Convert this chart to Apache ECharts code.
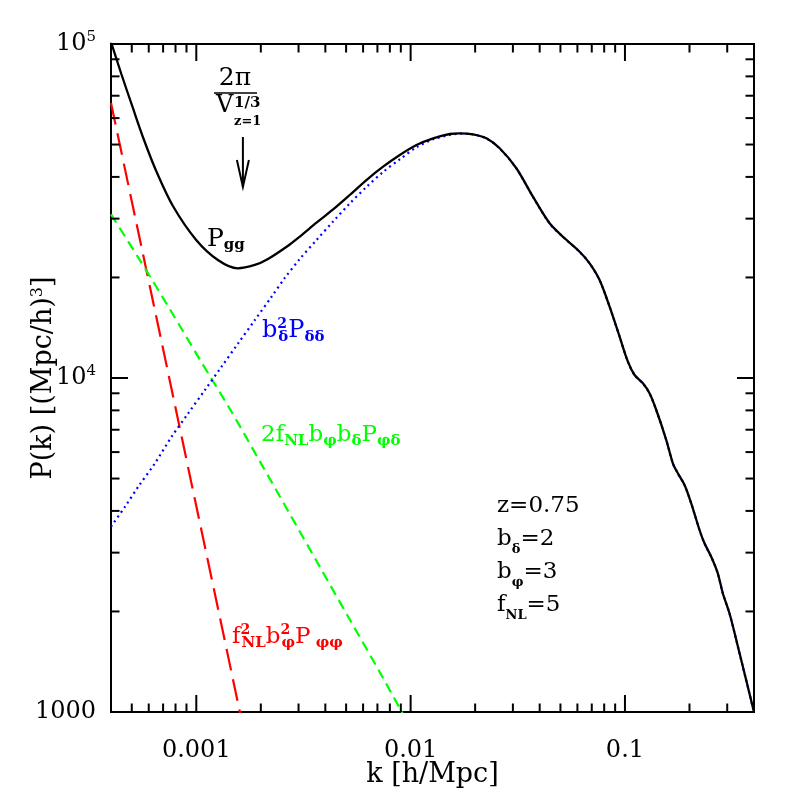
<!DOCTYPE html>
<html>
<head>
<meta charset="utf-8">
<script src="https://cdn.jsdelivr.net/npm/echarts@6/dist/echarts.min.js"></script>
<style>
  html, body { margin: 0; padding: 0; background: #fff; }
  #chart { width: 797px; height: 797px; }
</style>
</head>
<body>
<div id="chart"></div>
<script>
// power spectra: k in h/Mpc, P in (Mpc/h)^3
const kTotal = [0.0004, 0.000447, 0.000506, 0.000568, 0.00065, 0.000778, 0.000999, 0.001261, 0.00156, 0.001875,
  0.00216, 0.00267, 0.00304, 0.00364, 0.00435, 0.0052, 0.00622, 0.00744, 0.0089, 0.01065,
  0.01273, 0.01522, 0.01694, 0.01954, 0.02257, 0.02603, 0.03114, 0.03722, 0.04452, 0.05232,
  0.06144, 0.06842, 0.07615, 0.08479, 0.09441, 0.1032, 0.1109, 0.1213, 0.1302, 0.14,
  0.1559, 0.1673, 0.1765, 0.1897, 0.2038, 0.2228, 0.235, 0.2526, 0.2711, 0.2861,
  0.3074, 0.3423, 0.4];
const pTotal = [101400, 81320, 64330, 51950, 41680, 32730, 25900, 22560, 21300, 21800,
  22720, 24850, 26510, 29170, 31960, 35310, 39150, 42920, 46530, 49850,
  52200, 53770, 54030, 53660, 52200, 48720, 42460, 34900, 29050, 26200,
  23880, 22050, 19650, 16350, 13300, 11190, 10210, 9640, 9000, 8020,
  6520, 5555, 5184, 4782, 4215, 3507, 3200, 2917, 2602, 2267,
  1975, 1502, 1000];

const kDelta = [0.0004, 0.000465, 0.000536, 0.000641, 0.000767, 0.000917, 0.001097, 0.001312, 0.001568, 0.001877,
  0.002245, 0.002588, 0.003041, 0.00364, 0.00435, 0.0052, 0.00622, 0.00744, 0.0089, 0.01065,
  0.01273, 0.01522, 0.01694, 0.01954, 0.02257, 0.02603, 0.03114, 0.03722, 0.04452, 0.05232,
  0.06144, 0.06842, 0.07615, 0.08479, 0.09441, 0.1032, 0.1109, 0.1213, 0.1302, 0.14,
  0.1559, 0.1673, 0.1765, 0.1897, 0.2038, 0.2228, 0.235, 0.2526, 0.2711, 0.2861,
  0.3074, 0.3423, 0.4];
const pDelta = [3590, 4118, 4727, 5555, 6672, 7840, 9204, 10810, 12700, 14920,
  17510, 19930, 22720, 25900, 29420, 33310, 37310, 41380, 45160, 49070,
  51840, 53400, 53900, 53600, 52150, 48680, 42420, 34870, 29020, 26170,
  23860, 22030, 19630, 16340, 13290, 11180, 10200, 9630, 8990, 8010,
  6510, 5550, 5180, 4778, 4211, 3504, 3197, 2914, 2600, 2265,
  1973, 1500, 999];

const kCross = [0.0004, 0.000546, 0.000754, 0.00104, 0.001435, 0.00198, 0.002732, 0.003771, 0.0052, 0.00718, 0.00929];
const pCross = [30900, 22510, 16050, 11340, 8075, 5628, 3913, 2720, 1892, 1316, 976];

const kPhi = [0.0004, 0.0005, 0.0007, 0.001, 0.0013, 0.00165];
const pPhi = [66600, 33830, 12220, 4135, 1869, 905];

// arrow at k = 2pi / V^(1/3)
const kArrow = 0.00165;
const pArrow = [52670, 37310];

const xRange = [0.0004, 0.4];
const yRange = [1000, 100000];
const xMajor = [0.001, 0.01, 0.1];
const xMinor = [0.0005, 0.0006, 0.0007, 0.0008, 0.0009,
  0.002, 0.003, 0.004, 0.005, 0.006, 0.007, 0.008, 0.009,
  0.02, 0.03, 0.04, 0.05, 0.06, 0.07, 0.08, 0.09, 0.2, 0.3];
const yMajor = [10000];
const yMinor = [2000, 3000, 4000, 5000, 6000, 7000, 8000, 9000,
  20000, 30000, 40000, 50000, 60000, 70000, 80000, 90000];
const xTickLabels = { '-3': '0.001', '-2': '0.01', '-1': '0.1' };
const yTickLabels = { '3': '{b|1000}', '4': '{b|10}{s|4}', '5': '{b|10}{s|5}' };

const FONT = 'DejaVu Serif';
const pairs = (ks, ps) => ks.map((k, i) => [k, ps[i]]);

function decade(v) {
  const e = Math.log10(v);
  return Math.abs(e - Math.round(e)) < 1e-6 ? String(Math.round(e)) : null;
}

function tickSeries(values, axis, len) {
  return {
    type: 'custom',
    silent: true,
    z: 5,
    data: values.map(v => axis === 'x' ? [v, yRange[0]] : [xRange[0], v]),
    renderItem: (params, api) => {
      const style = { stroke: '#000', lineWidth: 2 };
      if (axis === 'x') {
        const v = api.value(0);
        const b = api.coord([v, yRange[0]]);
        const t = api.coord([v, yRange[1]]);
        return { type: 'group', children: [
          { type: 'line', shape: { x1: b[0], y1: b[1], x2: b[0], y2: b[1] - len }, style },
          { type: 'line', shape: { x1: t[0], y1: t[1], x2: t[0], y2: t[1] + len }, style }
        ] };
      }
      const v = api.value(1);
      const l = api.coord([xRange[0], v]);
      const r = api.coord([xRange[1], v]);
      return { type: 'group', children: [
        { type: 'line', shape: { x1: l[0], y1: l[1], x2: l[0] + len, y2: l[1] }, style },
        { type: 'line', shape: { x1: r[0], y1: r[1], x2: r[0] - len, y2: r[1] }, style }
      ] };
    }
  };
}

function richStyles(color, size) {
  return {
    m: { fontFamily: FONT, fontSize: size, lineHeight: 28, fill: color },
    d: { fontFamily: FONT, fontSize: 15, fontWeight: 'bold', lineHeight: 14, verticalAlign: 'bottom', fill: color },
    u: { fontFamily: FONT, fontSize: 14, fontWeight: 'bold', lineHeight: 17, verticalAlign: 'top', fill: color },
    uk: { fontFamily: FONT, fontSize: 14, fontWeight: 'bold', lineHeight: 17, verticalAlign: 'top', width: 1, fill: color }
  };
}

function label(x, y, text, color, size) {
  return {
    type: 'text', x, y, z: 10, silent: true,
    style: { text, rich: richStyles(color, size || 24), verticalAlign: 'top', align: 'left' }
  };
}

const chart = echarts.init(document.getElementById('chart'));

chart.setOption({
  animation: false,
  backgroundColor: '#fff',
  grid: {
    left: 111, top: 44, width: 643, height: 668, containLabel: false, outerBoundsMode: 'none',
    show: true, borderColor: '#000', borderWidth: 2
  },
  xAxis: {
    type: 'log', logBase: 10, min: xRange[0], max: xRange[1],
    name: 'k [h/Mpc]', nameLocation: 'middle', nameGap: 49, nameMoveOverlap: false,
    nameTextStyle: { fontFamily: FONT, fontSize: 27, color: '#000' },
    axisLine: { show: false }, axisTick: { show: false }, splitLine: { show: false },
    axisLabel: {
      margin: 27, fontFamily: FONT, fontSize: 24, color: '#000',
      formatter: v => { const e = decade(v); return e && xTickLabels[e] ? xTickLabels[e] : ''; }
    }
  },
  yAxis: {
    type: 'log', logBase: 10, min: yRange[0], max: yRange[1],
    name: 'P(k) [(Mpc/h){s|3}]', nameLocation: 'middle', nameGap: 54, nameRotate: 90, nameMoveOverlap: false,
    nameTextStyle: {
      fontFamily: FONT, fontSize: 27, color: '#000',
      rich: { s: { fontFamily: FONT, fontSize: 16, verticalAlign: 'top', lineHeight: 22, color: '#000' } }
    },
    axisLine: { show: false }, axisTick: { show: false }, splitLine: { show: false },
    axisLabel: {
      margin: 15, color: '#000',
      formatter: v => { const e = decade(v); return e && yTickLabels[e] ? yTickLabels[e] : ''; },
      rich: {
        b: { fontFamily: FONT, fontSize: 24, lineHeight: 28, color: '#000' },
        s: { fontFamily: FONT, fontSize: 15, lineHeight: 20, verticalAlign: 'top', color: '#000' }
      }
    }
  },
  series: [
    {
      name: 'phiphi', type: 'line', data: pairs(kPhi, pPhi), showSymbol: false, clip: true,
      lineStyle: { color: '#ff0000', width: 2.2, type: [22, 9] }
    },
    {
      name: 'phidelta', type: 'line', data: pairs(kCross, pCross), showSymbol: false, clip: true, smooth: 0.3,
      lineStyle: { color: '#00ff00', width: 2.2, type: [10, 6] }
    },
    {
      name: 'deltadelta', type: 'line', data: pairs(kDelta, pDelta), showSymbol: false, clip: true, smooth: 0.3,
      lineStyle: { color: '#0000ff', width: 2.2, type: [2, 3.7] }
    },
    {
      name: 'gg', type: 'line', data: pairs(kTotal, pTotal), showSymbol: false, clip: true, smooth: 0.3,
      lineStyle: { color: '#000', width: 2.3 }, z: 4
    },
    {
      name: 'arrow', type: 'custom', silent: true, z: 6,
      data: [[kArrow, pArrow[0], pArrow[1]]],
      renderItem: (params, api) => {
        const top = api.coord([api.value(0), api.value(1)]);
        const tip = api.coord([api.value(0), api.value(2)]);
        const style = { stroke: '#000', lineWidth: 2, fill: null };
        return { type: 'group', children: [
          { type: 'line', shape: { x1: top[0], y1: top[1], x2: tip[0], y2: tip[1] }, style },
          { type: 'polyline', shape: { points: [[tip[0] - 6, tip[1] - 27], tip, [tip[0] + 6, tip[1] - 27]] }, style }
        ] };
      }
    },
    tickSeries(xMajor, 'x', 17),
    tickSeries(xMinor, 'x', 8.5),
    tickSeries(yMajor, 'y', 17),
    tickSeries(yMinor, 'y', 8.5)
  ],
  graphic: [
    label(207, 225, '{m|P}{d|gg}', '#000', 25),
    label(262, 317, '{m|b}{uk|2}{d|δ}{m|P}{d|δδ}', '#0000ff'),
    label(261, 421, '{m|2f}{d|NL}{m|b}{d|φ}{m|b}{d|δ}{m|P}{d|φδ}', '#00ff00', 23),
    label(232, 623, '{m|f}{uk|2}{d|NL}{m|b}{uk|2}{d|φ}{m|P}{d| φφ}', '#ff0000', 23),
    // 2pi / V^(1/3)_{z=1}
    { type: 'text', x: 235, y: 91, silent: true,
      style: { text: '2π', fontFamily: FONT, fontSize: 25, fill: '#000', align: 'center', verticalAlign: 'bottom' } },
    { type: 'line', silent: true, shape: { x1: 214, y1: 93, x2: 257, y2: 93 }, style: { stroke: '#000', lineWidth: 1.5 } },
    { type: 'text', x: 216, y: 118, silent: true,
      style: { text: 'V', fontFamily: FONT, fontSize: 24, fill: '#000', align: 'left', verticalAlign: 'bottom' } },
    { type: 'text', x: 234, y: 96, silent: true,
      style: { text: '1/3', fontFamily: FONT, fontSize: 15, fontWeight: 'bold', fill: '#000', align: 'left', verticalAlign: 'top' } },
    { type: 'text', x: 234, y: 128, silent: true,
      style: { text: 'z=1', fontFamily: FONT, fontSize: 13, fontWeight: 'bold', fill: '#000', align: 'left', verticalAlign: 'bottom' } },
    // run parameters
    {
      type: 'text', x: 497, y: 490, silent: true,
      style: {
        text: '{m|z=0.75}\n{m|b}{d|δ}{m|=2}\n{m|b}{d|φ}{m|=3}\n{m|f}{d|NL}{m|=5}',
        verticalAlign: 'top', align: 'left',
        rich: {
          m: { fontFamily: FONT, fontSize: 23, lineHeight: 33, fill: '#000' },
          d: { fontFamily: FONT, fontSize: 13, fontWeight: 'bold', lineHeight: 18, verticalAlign: 'bottom', fill: '#000' }
        }
      }
    }
  ]
});

window.addEventListener('resize', () => chart.resize());
</script>
</body>
</html>
